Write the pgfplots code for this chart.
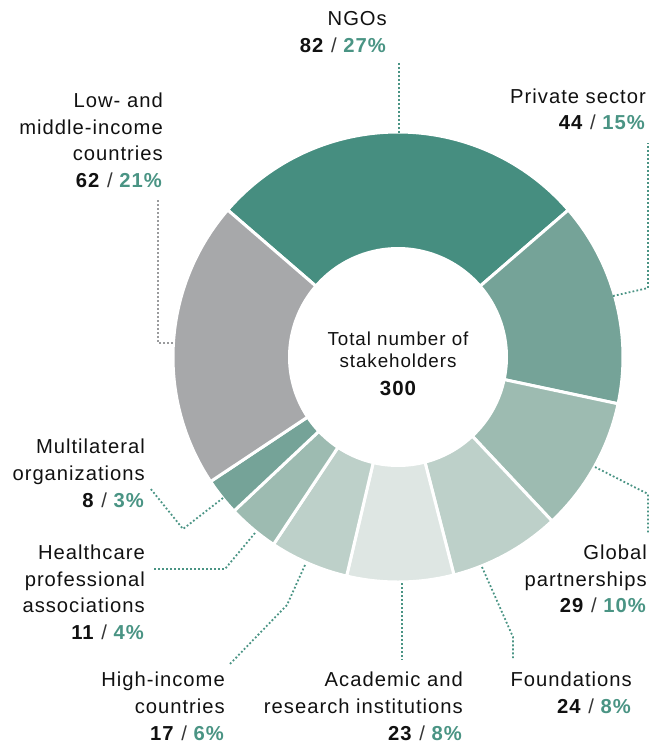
\documentclass[border=0pt]{standalone}
\usepackage{pgfplots}
\usepackage{pgfplotstable}
\pgfplotsset{compat=1.18}
\usepackage{fontspec}
\setmainfont{Liberation Sans}[LetterSpace=5.0]
\definecolor{cNGO}{HTML}{468E80}
\definecolor{cPriv}{HTML}{75A398}
\definecolor{cGlob}{HTML}{9DBBB1}
\definecolor{cFound}{HTML}{BDD0C9}
\definecolor{cAcad}{HTML}{DEE6E3}
\definecolor{cHigh}{HTML}{BDD0C9}
\definecolor{cHealth}{HTML}{9DBBB1}
\definecolor{cMulti}{HTML}{75A398}
\definecolor{cLMIC}{HTML}{A7A8AA}
\definecolor{pct}{HTML}{4A9484}
\definecolor{txt}{HTML}{111111}
\definecolor{lead}{HTML}{4A9484}
\definecolor{leadg}{HTML}{9A9B9D}
\pgfplotstableread{
value col
82 cNGO
44 cPriv
29 cGlob
24 cFound
23 cAcad
17 cHigh
11 cHealth
8 cMulti
62 cLMIC
}\stake
\newcommand{\lf}{\fontsize{20.2}{26}\selectfont}
\newcommand{\nm}[1]{\textbf{#1}}
\newcommand{\pc}[1]{\textcolor{pct}{\textbf{#1}}}
\newcommand{\slsh}{\ \textcolor{txt!85}{/}\ }
\newcommand{\lbl}[3]{\node[anchor=base east, inner sep=0pt, font=\lf, text=txt] at (axis cs:#1,#2) {#3};}
\newcommand{\clbl}[3]{\node[anchor=base, inner sep=0pt, font=\fontsize{18.8}{22}\selectfont, text=txt] at (axis cs:#1,#2) {#3};}
\begin{document}
\begin{tikzpicture}
\begin{axis}[scale only axis, width=660pt, height=748pt,
  xmin=0, xmax=660, ymin=0, ymax=748, y dir=reverse,
  hide axis, clip=false]
\pgfmathsetmacro\cum{0}
\pgfplotsforeachungrouped \i in {0,...,8}{%
  \pgfplotstablegetelem{\i}{value}\of\stake \let\v\pgfplotsretval
  \pgfplotstablegetelem{\i}{col}\of\stake \let\c\pgfplotsretval
  \pgfmathsetmacro\a{139.2-\cum*1.2}%
  \pgfmathsetmacro\cum{\cum+\v}%
  \pgfmathsetmacro\b{139.2-\cum*1.2}%
  \edef\doit{\noexpand\addplot[fill=\c, draw=white, line width=3pt, line join=miter, domain=\b:\a, samples=90] ({398+225*cos(x)},{357-225*sin(x)}) -- (axis cs:398,357) -- cycle;}%
  \doit
}
\addplot[fill=white, draw=none, domain=0:360, samples=180] ({398+110*cos(x)},{357-110*sin(x)}) -- cycle;

% leader lines
\begin{scope}[line width=1.8pt, dash pattern=on 1.8pt off 2.2pt]
\draw[lead] (axis cs:399,133) -- (axis cs:399,63);
\draw[lead] (axis cs:613,296) -- (axis cs:648,288) -- (axis cs:648,143);
\draw[leadg] (axis cs:173,343) -- (axis cs:158,343) -- (axis cs:158,200);
\draw[lead] (axis cs:223,498) -- (axis cs:183,529) -- (axis cs:150,488);
\draw[lead] (axis cs:255,533) -- (axis cs:225,569) -- (axis cs:153,569);
\draw[lead] (axis cs:305,565) -- (axis cs:287,605) -- (axis cs:229,665);
\draw[lead] (axis cs:402,583) -- (axis cs:402,660);
\draw[lead] (axis cs:482,567) -- (axis cs:513,637) -- (axis cs:513,658);
\draw[lead] (axis cs:595,467) -- (axis cs:648,494) -- (axis cs:648,533);
\end{scope}

% labels
\lbl{387}{25}{NGOs}
\lbl{387}{52}{\nm{82}\slsh\pc{27\%}}
\lbl{646}{103}{Private sector}
\lbl{646}{129}{\nm{44}\slsh\pc{15\%}}
\lbl{163}{107}{Low- and}
\lbl{163}{134}{middle-income}
\lbl{163}{160}{countries}
\lbl{163}{187}{\nm{62}\slsh\pc{21\%}}
\lbl{145}{453}{Multilateral}
\lbl{145}{480}{organizations}
\lbl{145}{507}{\nm{8}\slsh\pc{3\%}}
\lbl{145}{559}{Healthcare}
\lbl{145}{586}{professional}
\lbl{145}{612}{associations}
\lbl{145}{639}{\nm{11}\slsh\pc{4\%}}
\lbl{225}{686}{High-income}
\lbl{225}{713}{countries}
\lbl{225}{740}{\nm{17}\slsh\pc{6\%}}
\lbl{463}{686}{Academic and}
\lbl{463}{713}{research institutions}
\lbl{463}{740}{\nm{23}\slsh\pc{8\%}}
\lbl{632}{686}{Foundations}
\lbl{632}{713}{\nm{24}\slsh\pc{8\%}}
\lbl{647}{559}{Global}
\lbl{647}{586}{partnerships}
\lbl{647}{612}{\nm{29}\slsh\pc{10\%}}
\clbl{398}{345}{Total number of}
\clbl{398}{367}{stakeholders}
\node[anchor=base, inner sep=0pt, font=\fontsize{20.5}{22}\selectfont\bfseries, text=txt] at (axis cs:398,395) {300};
\end{axis}
\pgfresetboundingbox
\path (0,0) rectangle (660pt,748pt);
\end{tikzpicture}
\end{document}
